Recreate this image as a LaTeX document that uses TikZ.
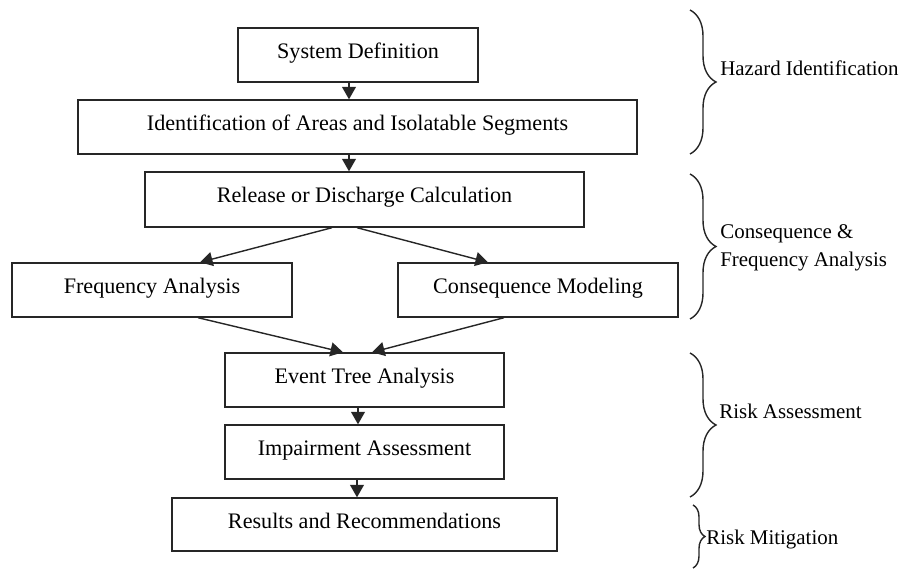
\documentclass[tikz,border=0pt]{standalone}
\usepackage{fontspec}
\setmainfont{Liberation Serif}
\usepackage{tikz}
\usetikzlibrary{arrows.meta, positioning, calc, decorations.pathreplacing}

\begin{document}
\begin{tikzpicture}[
		box/.style={draw=black!85, thick, minimum height=1.08cm, inner sep=0pt,
			text height=0.30cm, text depth=0.16cm, font=\fontsize{12.6}{15}\selectfont},
		link/.style={-{Triangle[length=0.25cm,width=0.28cm]}, semithick, black!85},
		phase/.style={decorate, decoration={brace, amplitude=0.52cm}, thick, black!85},
		tag/.style={anchor=west, align=left, inner sep=0pt, font=\fontsize{11.9}{15.9}\selectfont}]
			\useasboundingbox (0,0) rectangle (18.22,-11.38);
			
			% process boxes
			\node[box, minimum width=4.80cm] (sysdef) at (7.16,-1.10) {System Definition};
			\node[box, minimum width=11.18cm] (ident) at (7.15,-2.54) {Identification of Areas and Isolatable Segments};
			\node[box, minimum width=8.78cm, minimum height=1.10cm] (release) at (7.29,-3.99) {Release or Discharge Calculation};
			\node[box, minimum width=5.60cm] (freq) at (3.04,-5.80) {Frequency Analysis};
			\node[box, minimum width=5.60cm] (conseq) at (10.76,-5.80) {Consequence Modeling};
			\node[box, minimum width=5.58cm] (event) at (7.29,-7.60) {Event Tree Analysis};
			\node[box, minimum width=5.58cm] (impair) at (7.29,-9.04) {Impairment Assessment};
			\node[box, minimum width=7.70cm, minimum height=1.06cm] (results) at (7.29,-10.49) {Results and Recommendations};
			
			% flow
			\draw[link] ([xshift=-0.18cm]sysdef.south) -- ([xshift=-0.18cm]sysdef.south |- ident.north);
			\draw[link] ([xshift=-0.17cm]ident.south) -- ([xshift=-0.17cm]ident.south |- release.north);
			\draw[link, thick] ([xshift=-0.65cm]release.south) -- ([xshift=0.96cm]freq.north);
			\draw[link, thick] ([xshift=-0.15cm]release.south) -- ([xshift=-1.00cm]conseq.north);
			\draw[link, thick] ([xshift=0.92cm]freq.south) -- ([xshift=-0.43cm]event.north);
			\draw[link, thick] ([xshift=-0.68cm]conseq.south) -- ([xshift=0.15cm]event.north);
			\draw[link] ([xshift=-0.13cm]event.south) -- ([xshift=-0.13cm]event.south |- impair.north);
			\draw[link] ([xshift=-0.15cm]impair.south) -- ([xshift=-0.15cm]impair.south |- results.north);
			
			% phases
			\draw[phase] (13.80,-0.20) -- (13.80,-3.08);
			\draw[phase] (13.80,-3.48) -- (13.80,-6.38);
			\draw[phase] (13.80,-7.06) -- (13.80,-9.94);
			\draw[phase, decoration={amplitude=0.24cm}] (13.86,-10.10) -- (13.86,-11.36);
			\node[tag] (hazid) at (14.40,-1.36) {Hazard Identification};
			\node[tag] (cfa) at (14.40,-4.95) {Consequence \&\\Frequency Analysis};
			\node[tag] (riskass) at (14.38,-8.23) {Risk Assessment};
			\node[tag] (riskmit) at (14.12,-10.78) {Risk Mitigation};
		\end{tikzpicture}
\end{document}
